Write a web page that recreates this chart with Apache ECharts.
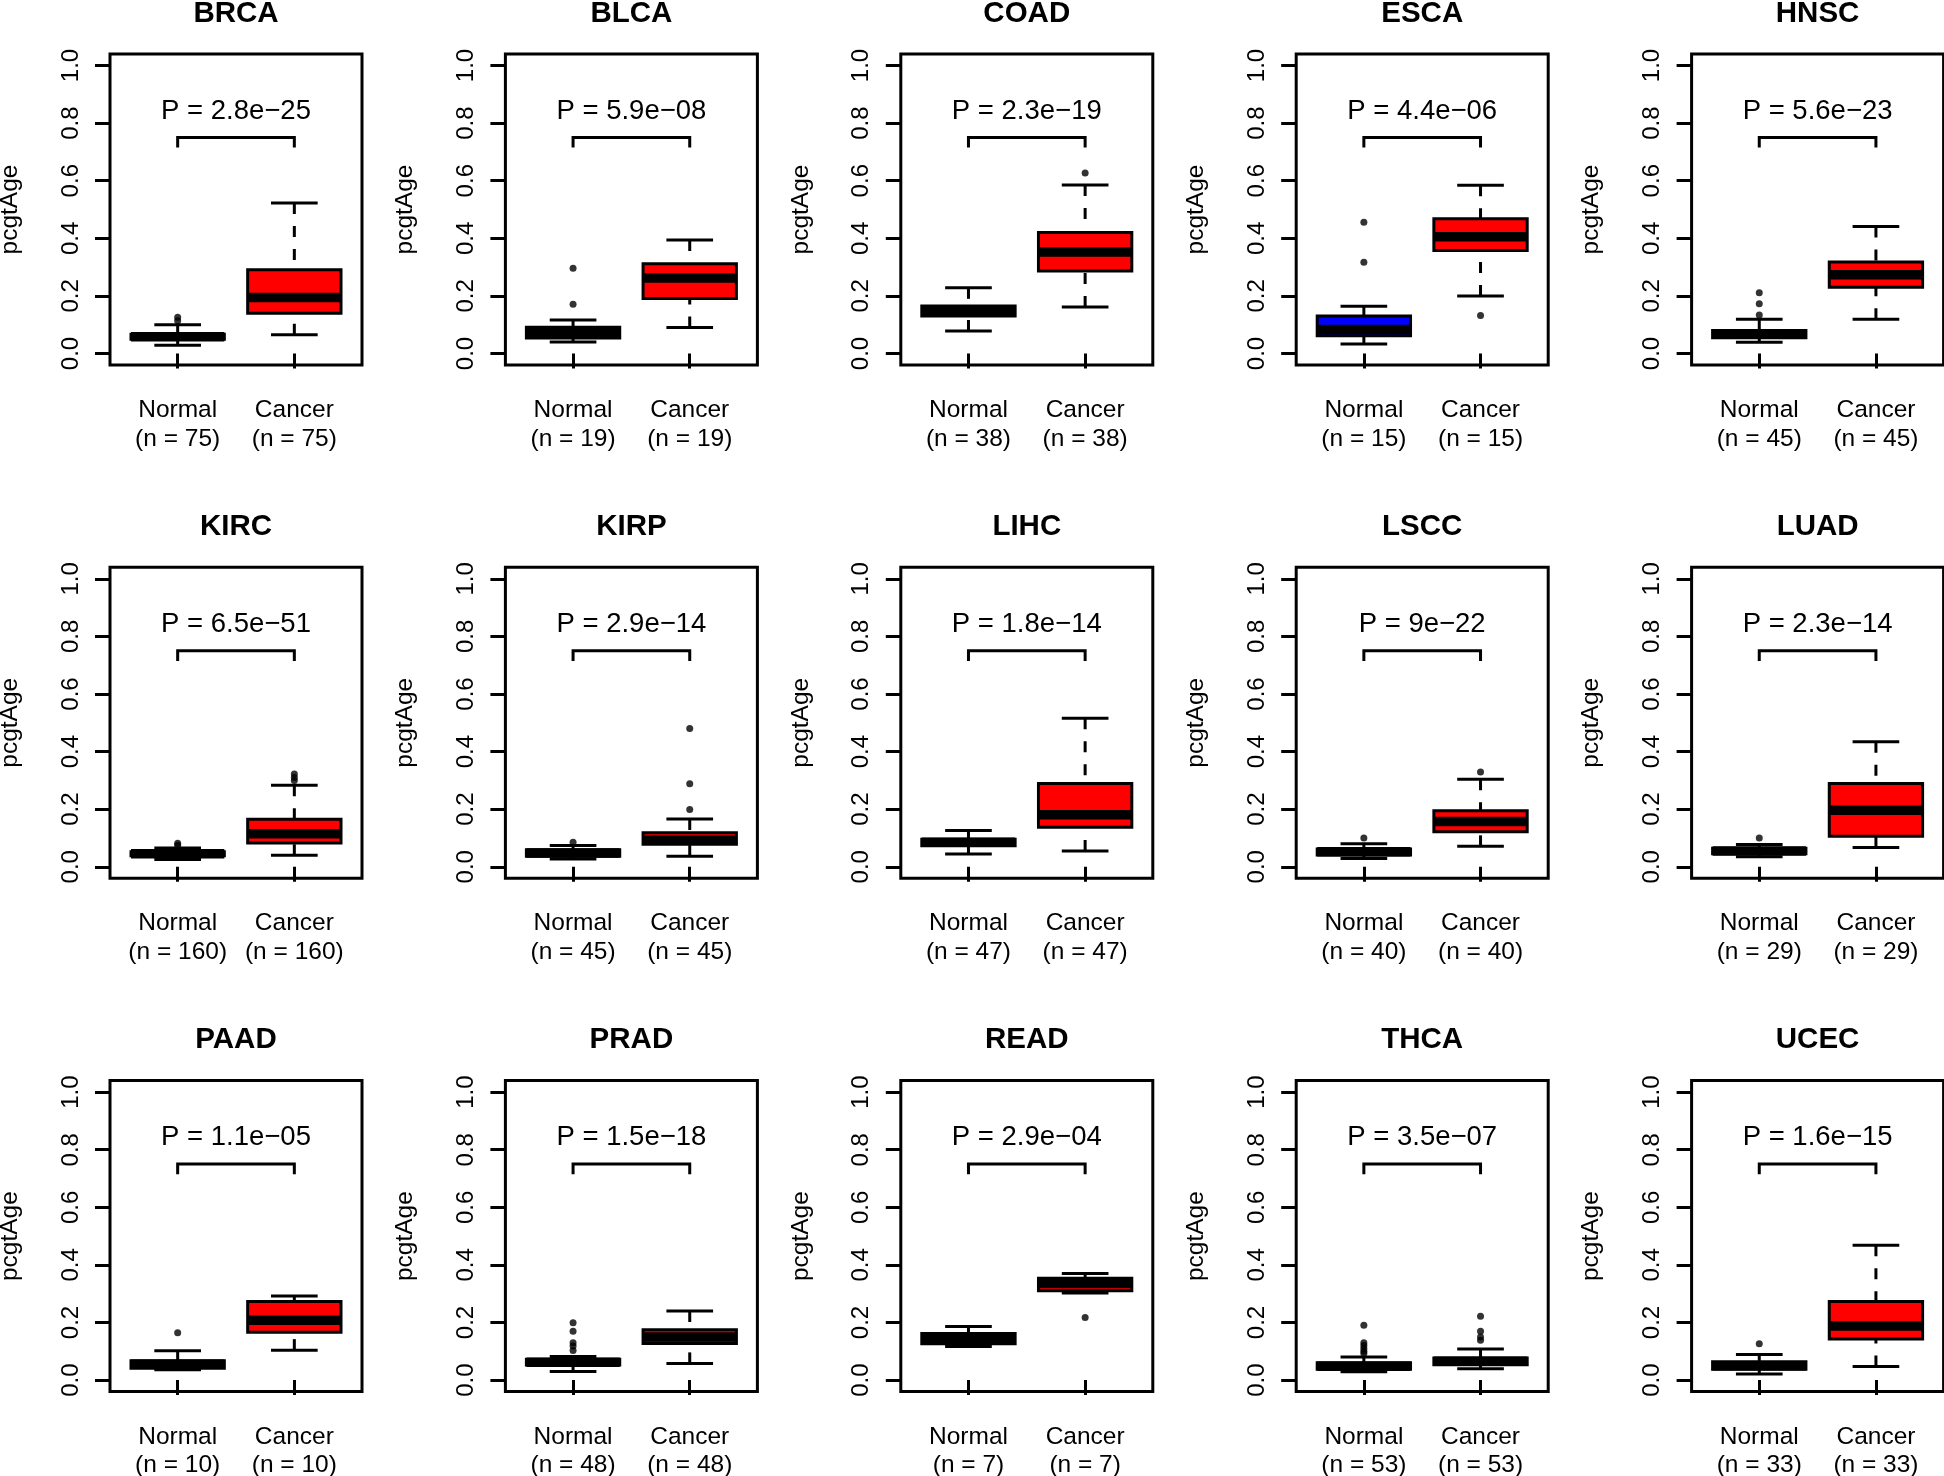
<!DOCTYPE html>
<html>
<head>
<meta charset="utf-8">
<script src="https://cdn.jsdelivr.net/npm/echarts@6/dist/echarts.min.js"></script>
<style>
html,body{margin:0;padding:0;background:#fff;}
#chart{width:1944px;height:1476px;}
</style>
</head>
<body>
<div id="chart"></div>
<script>
// ---------------- DATA ----------------
const cancerTypes = ['BRCA','BLCA','COAD','ESCA','HNSC','KIRC','KIRP','LIHC','LSCC','LUAD','PAAD','PRAD','READ','THCA','UCEC'];
const groups = ['Normal','Cancer'];
const sampleSizes = [75,19,38,15,45,160,45,47,40,29,10,48,7,53,33];
const pValues = ['2.8e\u221225','5.9e\u221208','2.3e\u221219','4.4e\u221206','5.6e\u221223',
                 '6.5e\u221251','2.9e\u221214','1.8e\u221214','9e\u221222','2.3e\u221214',
                 '1.1e\u221205','1.5e\u221218','2.9e\u221204','3.5e\u221207','1.6e\u221215'];
// box statistics: [lower whisker, Q1, median, Q3, upper whisker]
const normalStats = [
  [0.029,0.049,0.058,0.067,0.100],
  [0.040,0.054,0.072,0.091,0.116],
  [0.078,0.130,0.148,0.165,0.228],
  [0.033,0.062,0.083,0.130,0.164],
  [0.039,0.055,0.068,0.080,0.119],
  [0.025,0.038,0.045,0.052,0.065],
  [0.027,0.037,0.048,0.059,0.074],
  [0.044,0.073,0.085,0.096,0.126],
  [0.029,0.041,0.052,0.062,0.080],
  [0.035,0.045,0.055,0.064,0.077],
  [0.036,0.041,0.055,0.067,0.102],
  [0.030,0.052,0.062,0.072,0.082],
  [0.117,0.126,0.140,0.162,0.186],
  [0.029,0.038,0.048,0.060,0.080],
  [0.021,0.038,0.050,0.064,0.089]
];
const cancerStats = [
  [0.065,0.140,0.194,0.291,0.523],
  [0.090,0.191,0.262,0.312,0.394],
  [0.161,0.286,0.352,0.420,0.585],
  [0.200,0.358,0.405,0.468,0.584],
  [0.119,0.230,0.273,0.318,0.441],
  [0.040,0.083,0.115,0.165,0.283],
  [0.037,0.078,0.092,0.118,0.166],
  [0.055,0.137,0.181,0.289,0.516],
  [0.071,0.122,0.157,0.195,0.304],
  [0.067,0.106,0.196,0.289,0.434],
  [0.104,0.166,0.208,0.273,0.292],
  [0.058,0.127,0.150,0.175,0.240],
  [0.302,0.310,0.335,0.354,0.370],
  [0.039,0.053,0.065,0.077,0.108],
  [0.047,0.143,0.188,0.273,0.468]
];
const normalOutliers = [
  [0.114,0.126],
  [0.171,0.296],
  [],
  [0.317,0.456],
  [0.134,0.173,0.211],
  [0.075,0.082],
  [0.085],
  [],
  [0.100],
  [0.100],
  [0.164],
  [0.103,0.118,0.130,0.170,0.199],
  [],
  [0.092,0.100,0.110,0.120,0.130,0.190],
  [0.126]
];
const cancerOutliers = [
  [],
  [],
  [0.627],
  [0.132],
  [],
  [0.300,0.310,0.322],
  [0.199,0.288,0.480],
  [],
  [0.329],
  [],
  [],
  [],
  [0.217],
  [0.138,0.150,0.170,0.222],
  []
];
const yTicks = [0, 0.2, 0.4, 0.6, 0.8, 1.0];
const bracketLevel = 0.75, bracketTip = 0.715, pLabelLevel = 0.842;

// ---------------- LAYOUT / STYLE ----------------
const FONT = '"Liberation Sans", Arial, Helvetica, sans-serif';
const NORMAL_FILL = '#0000ff', CANCER_FILL = '#ff0000';
const W = 252, H = 311;
const colLeft = c => 110 + 395.4 * c;
const rowTop = r => 54 + 513.3 * r;

const chart = echarts.init(document.getElementById('chart'), null, {renderer: 'canvas'});

const grids = [], xAxes = [], yAxes = [], series = [], graphics = [];

function boxRender(params, api) {
  const x = api.value(0);
  const lo = api.coord([x, api.value(1)]);
  const q1 = api.coord([x, api.value(2)]);
  const md = api.coord([x, api.value(3)]);
  const q3 = api.coord([x, api.value(4)]);
  const hi = api.coord([x, api.value(5)]);
  const half = api.size([0.8, 0])[0] / 2;
  const capHalf = api.size([0.4, 0])[0] / 2;
  const cx = lo[0];
  const fill = params.dataIndex === 0 ? NORMAL_FILL : CANCER_FILL;
  const dash = {stroke: '#000', lineWidth: 3, lineDash: [11, 12], lineCap: 'butt'};
  const solid = {stroke: '#000', lineWidth: 3, lineCap: 'butt'};
  return {type: 'group', children: [
    {type: 'line', shape: {x1: cx, y1: hi[1], x2: cx, y2: q3[1]}, style: dash},
    {type: 'line', shape: {x1: cx, y1: lo[1], x2: cx, y2: q1[1]}, style: dash},
    {type: 'line', shape: {x1: cx - capHalf, y1: hi[1], x2: cx + capHalf, y2: hi[1]}, style: solid},
    {type: 'line', shape: {x1: cx - capHalf, y1: lo[1], x2: cx + capHalf, y2: lo[1]}, style: solid},
    {type: 'rect', shape: {x: cx - half, y: q3[1], width: 2 * half, height: q1[1] - q3[1]},
      style: {fill: fill, stroke: '#000', lineWidth: 3, lineJoin: 'miter'}},
    {type: 'line', shape: {x1: cx - half, y1: md[1], x2: cx + half, y2: md[1]},
      style: {stroke: '#000', lineWidth: 9.5, lineCap: 'butt'}}
  ]};
}

cancerTypes.forEach((name, i) => {
  const c = i % 5, r = Math.floor(i / 5);
  const left = colLeft(c), top = rowTop(r);
  grids.push({left: left, top: top, width: W, height: H, show: true,
    borderColor: '#000', borderWidth: 3, backgroundColor: 'rgba(0,0,0,0)',
    containLabel: false, outerBoundsMode: 'none'});
  xAxes.push({gridIndex: i, type: 'value', min: 0.42, max: 2.58,
    splitLine: {show: false}, axisLine: {show: false},
    axisTick: {show: true, customValues: [1, 2], length: 15, inside: false,
      lineStyle: {color: '#000', width: 3}},
    axisLabel: {show: true, customValues: [1, 2],
      formatter: v => groups[Math.round(v) - 1] + '\n(n = ' + sampleSizes[i] + ')',
      fontFamily: FONT, fontSize: 24.5, color: '#000', lineHeight: 28.5, margin: 31}});
  yAxes.push({gridIndex: i, type: 'value', min: -0.04, max: 1.04,
    name: 'pcgtAge', nameLocation: 'middle', nameGap: 87.5, nameRotate: 90,
    nameTextStyle: {fontFamily: FONT, fontSize: 24.5, color: '#000'},
    splitLine: {show: false}, axisLine: {show: false},
    axisTick: {show: true, customValues: yTicks, length: 15, inside: false,
      lineStyle: {color: '#000', width: 3}},
    axisLabel: {show: true, customValues: yTicks, rotate: 90,
      formatter: v => Number(v).toFixed(1), margin: 27,
      fontFamily: FONT, fontSize: 24, color: '#000'}});

  series.push({type: 'custom', xAxisIndex: i, yAxisIndex: i, silent: true,
    data: [[1].concat(normalStats[i]), [2].concat(cancerStats[i])],
    renderItem: boxRender, z: 2});
  const outs = normalOutliers[i].map(v => [1, v]).concat(cancerOutliers[i].map(v => [2, v]));
  series.push({type: 'scatter', xAxisIndex: i, yAxisIndex: i, silent: true,
    data: outs, symbol: 'circle', symbolSize: 7, itemStyle: {color: '#000'}, z: 3});
  series.push({type: 'custom', xAxisIndex: i, yAxisIndex: i, silent: true,
    data: [[1, 2, bracketLevel, bracketTip, pLabelLevel]],
    renderItem: (params, api) => {
      const a = api.coord([api.value(0), api.value(2)]);
      const b = api.coord([api.value(1), api.value(2)]);
      const at = api.coord([api.value(0), api.value(3)]);
      const bt = api.coord([api.value(1), api.value(3)]);
      const t = api.coord([(api.value(0) + api.value(1)) / 2, api.value(4)]);
      return {type: 'group', children: [
        {type: 'polyline', shape: {points: [at, a, b, bt]},
          style: {stroke: '#000', lineWidth: 3, fill: null, lineJoin: 'miter'}},
        {type: 'text', x: t[0], y: t[1],
          style: {text: 'P = ' + pValues[i], fontFamily: FONT, fontSize: 27.5, fill: '#000',
            align: 'center', verticalAlign: 'middle'}}
      ]};
    }, z: 2});
  graphics.push({type: 'text', x: left + W / 2, y: top - 40.5, silent: true,
    style: {text: name, fontFamily: FONT, fontWeight: 'bold', fontSize: 29.5, fill: '#000',
      align: 'center', verticalAlign: 'middle'}});
});

chart.setOption({
  animation: false,
  backgroundColor: '#ffffff',
  grid: grids,
  xAxis: xAxes,
  yAxis: yAxes,
  series: series,
  graphic: {elements: graphics}
});
</script>
</body>
</html>
